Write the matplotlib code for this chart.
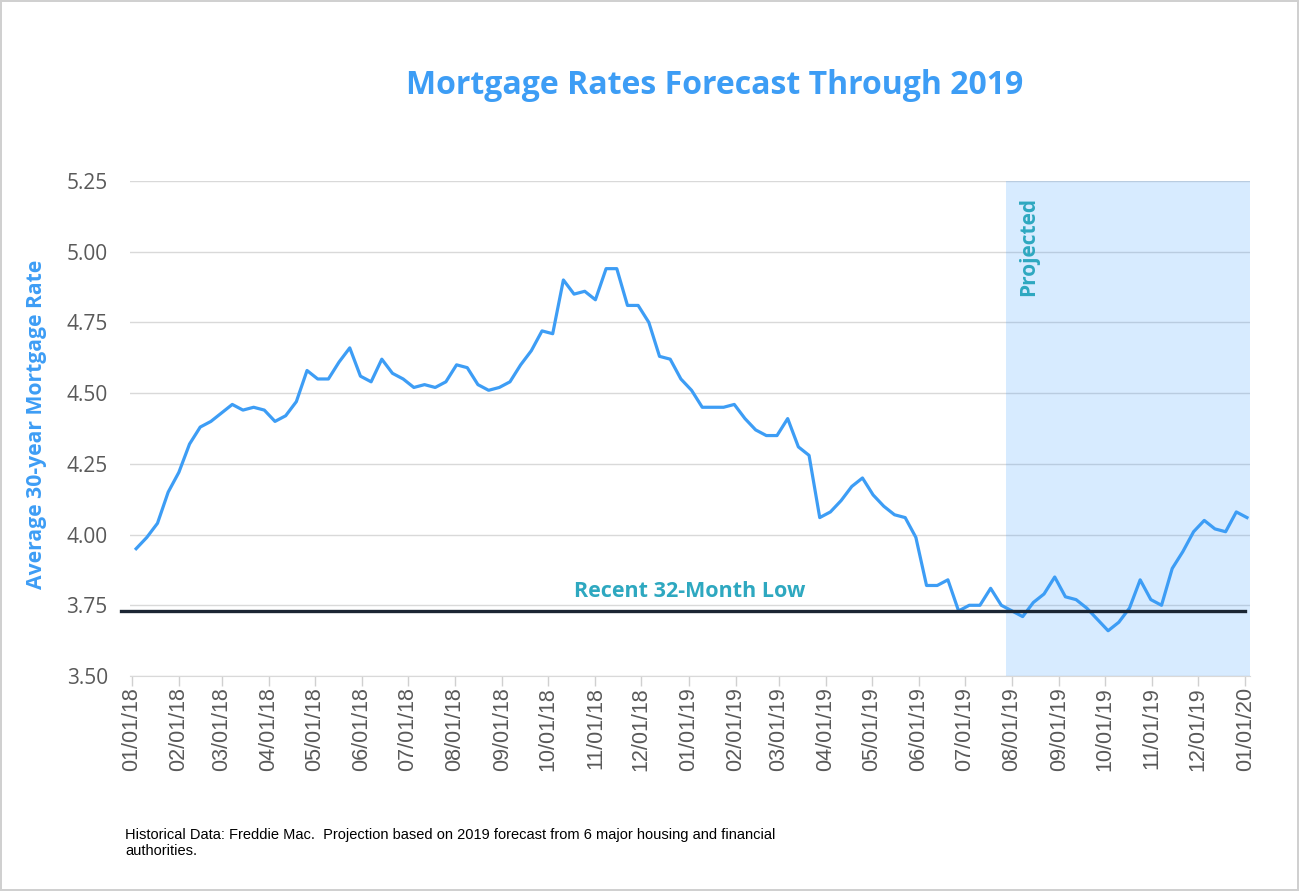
import pandas as pd
import matplotlib
matplotlib.use('Agg')
import matplotlib.pyplot as plt

# weekly Freddie Mac 30-year rates (Thursdays), 2018-01-04 .. 2019-07-25
historical = [
    3.95, 3.99, 4.04, 4.15, 4.22, 4.32, 4.38, 4.40, 4.43, 4.46, 4.44, 4.45, 4.44,
    4.40, 4.42, 4.47, 4.58, 4.55, 4.55, 4.61, 4.66, 4.56, 4.54, 4.62, 4.57, 4.55,
    4.52, 4.53, 4.52, 4.54, 4.60, 4.59, 4.53, 4.51, 4.52, 4.54, 4.60, 4.65, 4.72,
    4.71, 4.90, 4.85, 4.86, 4.83, 4.94, 4.94, 4.81, 4.81, 4.75, 4.63, 4.62, 4.55,
    4.51, 4.45, 4.45, 4.45, 4.46, 4.41, 4.37, 4.35, 4.35, 4.41, 4.31, 4.28, 4.06,
    4.08, 4.12, 4.17, 4.20, 4.14, 4.10, 4.07, 4.06, 3.99, 3.82, 3.82, 3.84, 3.73,
    3.75, 3.75, 3.81, 3.75,
]
# projection, 2019-08-01 .. 2020-01-02
projected = [
    3.73, 3.71, 3.76, 3.79, 3.85, 3.78, 3.77, 3.74, 3.70, 3.66, 3.69, 3.74, 3.84,
    3.77, 3.75, 3.88, 3.94, 4.01, 4.05, 4.02, 4.01, 4.08, 4.06,
]
rates = historical + projected
dates = pd.date_range('2018-01-04', periods=len(rates), freq='7D')

low_rate = 3.73
low_label = 'Recent 32-Month Low'
proj_start, proj_end = '2019-07-28', '2020-01-04'

tick_labels = ['01/01/18', '02/01/18', '03/01/18', '04/01/18', '05/01/18', '06/01/18',
               '07/01/18', '08/01/18', '09/01/18', '10/01/18', '11/01/18', '12/01/18',
               '01/01/19', '02/01/19', '03/01/19', '04/01/19', '05/01/19', '06/01/19',
               '07/01/19', '08/01/19', '09/01/19', '10/01/19', '11/01/19', '12/01/19',
               '01/01/20']
tick_dates = pd.to_datetime(tick_labels, format='%m/%d/%y')
y_ticks = [3.50, 3.75, 4.00, 4.25, 4.50, 4.75, 5.00, 5.25]

blue = '#3d9df5'
teal = '#2ea8c0'
gray = '#595959'

fig = plt.figure(figsize=(12.99, 8.91), dpi=100)
fig.patch.set_edgecolor('#d0d0d0')
fig.patch.set_linewidth(1.5)
ax = fig.add_axes([0.1001, 0.2413, 0.8622, 0.5556])

ax.plot(dates, rates, color=blue, lw=2.3, zorder=3)
ax.plot([pd.Timestamp('2017-12-25'), pd.Timestamp('2020-01-01')], [low_rate, low_rate],
        color='#1b2633', lw=2.4, zorder=4, clip_on=False)
ax.axvspan(pd.Timestamp(proj_start), pd.Timestamp(proj_end), color='#3b9cff', alpha=0.2,
           lw=0, zorder=2)

ax.set_xlim(pd.Timestamp('2017-12-31'), pd.Timestamp('2020-01-04'))
ax.set_ylim(3.50, 5.25)
ax.set_yticks(y_ticks)
ax.set_yticklabels([f'{v:.2f}' for v in y_ticks], fontsize=15, color=gray, family='Open Sans')
ax.set_xticks(tick_dates)
ax.set_xticklabels(tick_labels, rotation=90, fontsize=15.5, color=gray, family='Liberation Sans')
ax.tick_params(axis='y', length=0, pad=16)
ax.tick_params(axis='x', length=7, color='#d0d0d0', width=1, pad=1)
ax.grid(axis='y', color='#d9d9d9', lw=1, zorder=1)
ax.set_axisbelow(True)
for s in ['top', 'right', 'left']:
    ax.spines[s].set_visible(False)
ax.spines['bottom'].set_color('#d9d9d9')

ax.text(pd.Timestamp('2019-01-02'), 3.80, low_label, color=teal, fontsize=15.5,
        fontweight='bold', family='Open Sans', ha='center', va='center', zorder=5)
ax.text(pd.Timestamp('2019-08-12'), 5.195, 'Projected', color=teal, fontsize=15,
        fontweight='bold', family='Open Sans', rotation=90, ha='center', va='top', zorder=5)

fig.text(715 / 1299, 1 - 85 / 891, 'Mortgage Rates Forecast Through 2019', color=blue,
         fontsize=23, fontweight='bold', family='Open Sans', ha='center', va='center')
fig.text(37 / 1299, 1 - 424 / 891, 'Average 30-year Mortgage Rate', color=blue,
         fontsize=15.2, fontweight='bold', family='Open Sans', rotation=90,
         ha='center', va='center')
fig.text(125 / 1299, 1 - 828 / 891,
         'Historical Data: Freddie Mac.  Projection based on 2019 forecast from 6 major housing and financial\nauthorities.',
         fontsize=10.5, family='Liberation Sans', color='black', ha='left', va='top',
         linespacing=1.15)

fig.savefig('out.png', dpi=100, edgecolor=fig.get_edgecolor())
